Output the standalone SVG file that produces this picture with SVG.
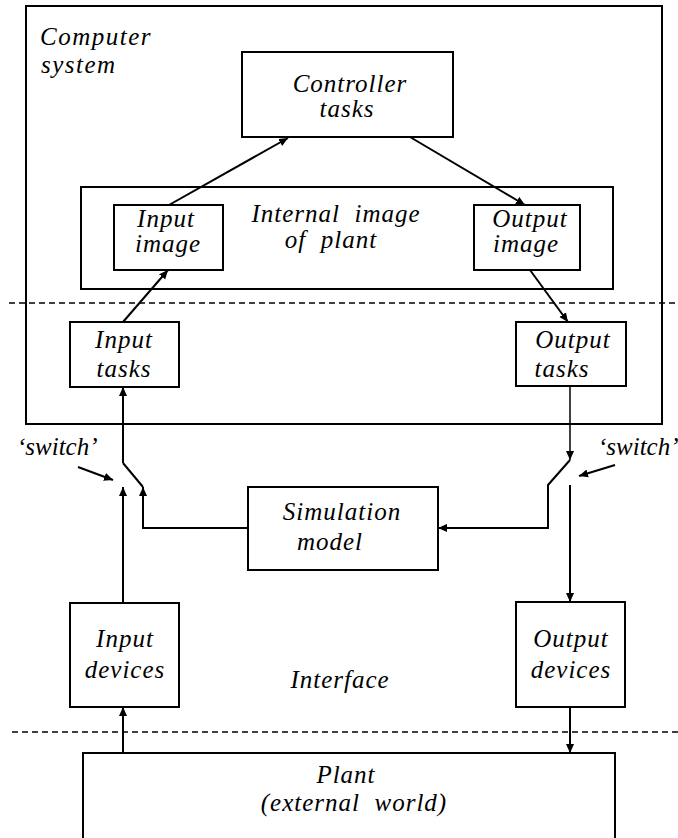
<svg xmlns="http://www.w3.org/2000/svg" width="678" height="838" viewBox="0 0 678 838">
  <defs>
    <marker id="ah" viewBox="0 0 10 10" refX="10" refY="5" markerWidth="9" markerHeight="9" markerUnits="userSpaceOnUse" orient="auto">
      <path d="M0,0.5 L10,5 L0,9.5 Z" fill="#000"/>
    </marker>
    <style>
      .box { fill: none; stroke: #000; stroke-width: 2; }
      .con { fill: none; stroke: #000; stroke-width: 2; }
      .thin { fill: none; stroke: #000; stroke-width: 1.5; }
      .dash { fill: none; stroke: #000; stroke-width: 1.6; stroke-dasharray: 6 4; }
      text { font-family: "Liberation Serif", "DejaVu Serif", "Times New Roman", serif; font-style: italic; font-size: 25px; fill: #000; letter-spacing: 1px; }
      .mid { text-anchor: middle; }
      .sw { letter-spacing: 0; }
    </style>
  </defs>

  <rect width="678" height="838" fill="#fff"/>

  <!-- level separators -->
  <g id="separators">
    <line class="dash" x1="9" y1="303" x2="678" y2="303"/>
    <line class="dash" x1="12" y1="732" x2="678" y2="732"/>
  </g>

  <g id="computer-system">
    <rect class="box" x="26" y="6" width="636" height="418"/>
    <text x="40" y="45" style="letter-spacing:1.5px">Computer</text>
    <text x="41" y="73" style="letter-spacing:1.5px">system</text>
  </g>

  <g id="controller-tasks">
    <rect class="box" x="242" y="52" width="211" height="85"/>
    <text class="mid" x="350" y="92">Controller</text>
    <text class="mid" x="347" y="117">tasks</text>
  </g>

  <g id="internal-image">
    <rect class="box" x="81" y="187" width="532" height="102"/>
    <text class="mid" x="336" y="222" xml:space="preserve">Internal  image</text>
    <text class="mid" x="331" y="248" xml:space="preserve">of  plant</text>
  </g>

  <g id="input-image">
    <rect class="box" x="114" y="205" width="109" height="65"/>
    <text class="mid" x="166" y="227">Input</text>
    <text class="mid" x="168" y="252">image</text>
  </g>

  <g id="output-image">
    <rect class="box" x="474" y="205" width="106" height="65"/>
    <text class="mid" x="530" y="227">Output</text>
    <text class="mid" x="526" y="252">image</text>
  </g>

  <g id="input-tasks">
    <rect class="box" x="70" y="322" width="109" height="65"/>
    <text class="mid" x="124" y="348">Input</text>
    <text class="mid" x="124" y="377">tasks</text>
  </g>

  <g id="output-tasks">
    <rect class="box" x="516" y="322" width="110" height="64"/>
    <text class="mid" x="573" y="348">Output</text>
    <text class="mid" x="562" y="377">tasks</text>
  </g>

  <g id="simulation-model">
    <rect class="box" x="248" y="487" width="190" height="83"/>
    <text class="mid" x="342" y="520">Simulation</text>
    <text class="mid" x="330" y="550">model</text>
  </g>

  <g id="input-devices">
    <rect class="box" x="70" y="603" width="109" height="104"/>
    <text class="mid" x="125" y="647">Input</text>
    <text class="mid" x="125" y="678">devices</text>
  </g>

  <g id="output-devices">
    <rect class="box" x="516" y="602" width="109" height="105"/>
    <text class="mid" x="571" y="647">Output</text>
    <text class="mid" x="571" y="678">devices</text>
  </g>

  <g id="interface-label">
    <text class="mid" x="340" y="688">Interface</text>
  </g>

  <g id="plant">
    <path class="box" d="M83,845 V753 H615 V845"/>
    <text class="mid" x="346" y="783">Plant</text>
    <text class="mid" x="354" y="811" xml:space="preserve">(external  world)</text>
  </g>

  <g id="switch-labels">
    <text class="sw" x="17" y="455">‘switch’</text>
    <text class="sw" x="598" y="455">‘switch’</text>
  </g>

  <g id="connectors">
    <!-- image layer to controller and back -->
    <line class="con" x1="169" y1="205" x2="288" y2="138" marker-end="url(#ah)"/>
    <line class="con" x1="410" y1="137" x2="525" y2="205" marker-end="url(#ah)"/>
    <!-- tasks to image layer -->
    <line class="con" x1="123" y1="322" x2="168" y2="270" marker-end="url(#ah)"/>
    <line class="con" x1="530" y1="270" x2="568" y2="322" marker-end="url(#ah)"/>

    <!-- input side switch -->
    <line class="con" x1="123" y1="463" x2="123" y2="387" marker-end="url(#ah)"/>
    <line class="con" x1="123" y1="463" x2="143" y2="487"/>
    <path class="con" d="M248,528 H143 V487" marker-end="url(#ah)"/>
    <line class="con" x1="123" y1="603" x2="123" y2="487" marker-end="url(#ah)"/>
    <line class="con" x1="78" y1="467" x2="113" y2="480" marker-end="url(#ah)"/>

    <!-- output side switch -->
    <line class="thin" x1="570" y1="386" x2="570" y2="460" marker-end="url(#ah)"/>
    <path class="con" d="M570,460 L548,485 V528 H438" marker-end="url(#ah)"/>
    <line class="con" x1="570" y1="485" x2="570" y2="602" marker-end="url(#ah)"/>
    <line class="con" x1="615" y1="465" x2="579" y2="476" marker-end="url(#ah)"/>

    <!-- devices and plant -->
    <line class="con" x1="123" y1="753" x2="123" y2="707" marker-end="url(#ah)"/>
    <line class="con" x1="570" y1="707" x2="570" y2="753" marker-end="url(#ah)"/>
  </g>
</svg>
